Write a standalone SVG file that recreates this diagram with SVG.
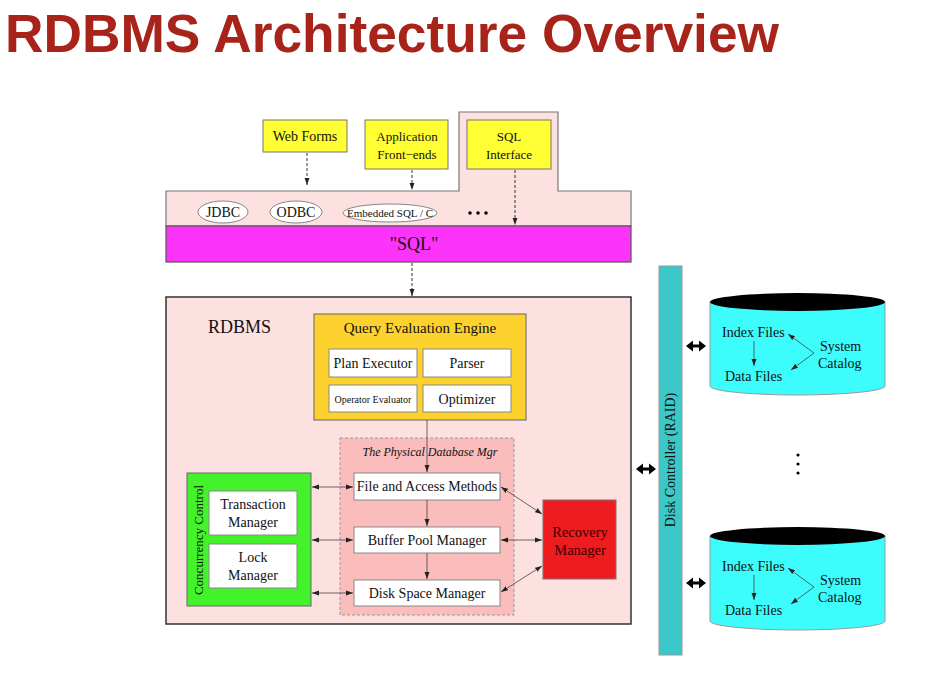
<svg xmlns="http://www.w3.org/2000/svg" width="948" height="674" viewBox="0 0 948 674">
<defs>
<marker id="ah" viewBox="0 0 10 10" refX="10" refY="5" markerWidth="7" markerHeight="7" markerUnits="userSpaceOnUse" orient="auto-start-reverse"><path d="M0,1.5 L10,5 L0,8.5 z" fill="#222"/></marker>
<path id="dbl" d="M0,0 L7,-5.5 L7,-1.6 L13,-1.6 L13,-5.5 L20,0 L13,5.5 L13,1.6 L7,1.6 L7,5.5 z" fill="#000"/>
</defs>
<style>
text{font-family:"Liberation Serif","Times New Roman",serif;fill:#111}
.t14{font-size:14px}
.c{text-anchor:middle}
.yel{fill:#ffff33;stroke:#777;stroke-width:1}
.wb{fill:#fff;stroke:#888;stroke-width:1}
.dash{stroke:#333;stroke-width:1;stroke-dasharray:3 2;fill:none}
.ln{stroke:#444;stroke-width:0.8;fill:none}
.ell{fill:#fff;stroke:#888;stroke-width:1}
.cyl{fill:#3cfcfc;stroke:#999;stroke-width:1}
</style>
<rect width="948" height="674" fill="#fff"/>
<text x="5" y="52" style="font-family:'Liberation Sans',Arial,sans-serif;font-weight:bold;font-size:53.3px;fill:#a8231a">RDBMS Architecture Overview</text>

<g id="interface-layer">
<path d="M166,191 L459,191 L459,112 L558,112 L558,191 L631,191 L631,226 L166,226 z" fill="#fde0e0" stroke="#777" stroke-width="1.2"/>
</g>
<g id="jdbc"><ellipse class="ell" cx="223" cy="212" rx="25" ry="11"/><text class="t14 c" x="223" y="217">JDBC</text></g>
<g id="odbc"><ellipse class="ell" cx="296" cy="212" rx="26" ry="11"/><text class="t14 c" x="296" y="217">ODBC</text></g>
<g id="embedded"><ellipse class="ell" cx="390" cy="213" rx="47" ry="9"/><text class="c" x="390" y="217" style="font-size:11px">Embedded SQL / C</text></g>
<g id="more-interfaces" fill="#000"><circle cx="470" cy="213" r="1.8"/><circle cx="478" cy="213" r="1.8"/><circle cx="486" cy="213" r="1.8"/></g>
<g id="sql"><rect x="166" y="226" width="465" height="36" fill="#fb33fb" stroke="#555" stroke-width="1.2"/><text class="c" x="414" y="250" style="font-size:18px">"SQL"</text></g>
<g id="web-forms"><rect class="yel" x="263" y="120" width="84" height="32"/><text class="t14 c" x="305" y="141">Web Forms</text></g>
<g id="app-frontends"><rect class="yel" x="365" y="120" width="83" height="49"/><text class="c" x="407" y="141" style="font-size:13px">Application</text><text class="c" x="407" y="159" style="font-size:13px">Front−ends</text></g>
<g id="sql-interface"><rect class="yel" x="467" y="120" width="84" height="49"/><text class="c" x="509" y="141" style="font-size:13px">SQL</text><text class="c" x="509" y="159" style="font-size:13px">Interface</text></g>

<g id="rdbms"><rect x="166" y="297" width="465" height="327" fill="#fde0e0" stroke="#333" stroke-width="1.5"/><text x="208" y="333" style="font-size:18px">RDBMS</text></g>
<g id="query-engine"><rect x="314" y="314" width="212" height="106" fill="#fdd22e" stroke="#666" stroke-width="1"/><text class="c" x="420" y="333" style="font-size:15px">Query Evaluation Engine</text></g>
<g id="plan-executor"><rect class="wb" x="329" y="349" width="88" height="28"/><text class="t14 c" x="373" y="368">Plan Executor</text></g>
<g id="parser"><rect class="wb" x="423" y="349" width="88" height="28"/><text class="t14 c" x="467" y="368">Parser</text></g>
<g id="operator-evaluator"><rect class="wb" x="329" y="385" width="88" height="27"/><text class="c" x="373" y="403" style="font-size:10px">Operator Evaluator</text></g>
<g id="optimizer"><rect class="wb" x="423" y="385" width="88" height="27"/><text class="t14 c" x="467" y="404">Optimizer</text></g>

<g id="physical-db-mgr"><rect x="340" y="438" width="174" height="177" fill="#fbbcbc" stroke="#999" stroke-width="1" stroke-dasharray="3 2"/><text class="c" x="430" y="456" style="font-size:12px;font-style:italic">The Physical Database Mgr</text></g>
<g id="file-access"><rect class="wb" x="354" y="473" width="146" height="27"/><text class="t14 c" x="427" y="491">File and Access Methods</text></g>
<g id="buffer-pool"><rect class="wb" x="354" y="527" width="146" height="26"/><text class="t14 c" x="427" y="545">Buffer Pool Manager</text></g>
<g id="disk-space"><rect class="wb" x="354" y="580" width="146" height="26"/><text class="t14 c" x="427" y="598">Disk Space Manager</text></g>

<g id="concurrency-control"><rect x="187" y="473" width="124" height="133" fill="#44f22c" stroke="#666" stroke-width="1"/><text class="c" transform="translate(203,540) rotate(-90)" style="font-size:13px">Concurrency Control</text></g>
<g id="transaction-manager"><rect class="wb" x="209" y="491" width="88" height="44"/><text class="t14 c" x="253" y="509">Transaction</text><text class="t14 c" x="253" y="527">Manager</text></g>
<g id="lock-manager"><rect class="wb" x="209" y="544" width="88" height="44"/><text class="t14 c" x="253" y="562">Lock</text><text class="t14 c" x="253" y="580">Manager</text></g>
<g id="recovery-manager"><rect x="543" y="500" width="73" height="79" fill="#ee1b1f" stroke="#777" stroke-width="1"/><text class="c" x="580" y="537" style="font-size:14.5px;fill:#3a0000">Recovery</text><text class="c" x="580" y="555" style="font-size:14.5px;fill:#3a0000">Manager</text></g>

<g id="disk-controller"><rect x="659" y="266" width="23" height="389" fill="#3cc8c8" stroke="#999" stroke-width="1"/><text class="c" transform="translate(675,460) rotate(-90)" style="font-size:14px">Disk Controller (RAID)</text></g>

<g id="disk-1">
<path class="cyl" d="M710,302 L710,386 A87.5,9 0 0 0 885,386 L885,302"/>
<ellipse cx="797.5" cy="302" rx="87.5" ry="9" fill="#000"/>
<text class="t14" x="722" y="337">Index Files</text>
<text class="t14" x="725" y="381">Data Files</text>
<text class="t14" x="820" y="351">System</text>
<text class="t14" x="818" y="368">Catalog</text>
<line class="ln" x1="754" y1="341" x2="754" y2="366" marker-end="url(#ah)"/>
<path class="ln" d="M788,334 L814,353 L791,370" marker-start="url(#ah)" marker-end="url(#ah)"/>
</g>
<g id="disk-2">
<path class="cyl" d="M710,536 L710,621 A87.5,9 0 0 0 885,621 L885,536"/>
<ellipse cx="797.5" cy="536" rx="87.5" ry="9" fill="#000"/>
<text class="t14" x="722" y="571">Index Files</text>
<text class="t14" x="725" y="615">Data Files</text>
<text class="t14" x="820" y="585">System</text>
<text class="t14" x="818" y="602">Catalog</text>
<line class="ln" x1="754" y1="575" x2="754" y2="600" marker-end="url(#ah)"/>
<path class="ln" d="M788,568 L814,587 L791,604" marker-start="url(#ah)" marker-end="url(#ah)"/>
</g>
<g id="more-disks" fill="#000"><circle cx="798" cy="455" r="1.6"/><circle cx="798" cy="464" r="1.6"/><circle cx="798" cy="473" r="1.6"/></g>

<g id="connectors">
<line class="dash" x1="307" y1="153" x2="307" y2="185" marker-end="url(#ah)"/>
<line class="dash" x1="412" y1="170" x2="412" y2="190" marker-end="url(#ah)"/>
<line class="dash" x1="515" y1="170" x2="515" y2="225" marker-end="url(#ah)"/>
<line class="dash" x1="412" y1="263" x2="412" y2="296" marker-end="url(#ah)"/>
<line class="ln" x1="427" y1="420" x2="427" y2="472" marker-end="url(#ah)"/>
<line class="ln" x1="427" y1="500" x2="427" y2="526" marker-end="url(#ah)"/>
<line class="ln" x1="427" y1="553" x2="427" y2="579" marker-end="url(#ah)"/>
<line class="ln" x1="312" y1="487" x2="353" y2="487" marker-start="url(#ah)" marker-end="url(#ah)"/>
<line class="ln" x1="312" y1="540" x2="353" y2="540" marker-start="url(#ah)" marker-end="url(#ah)"/>
<line class="ln" x1="312" y1="593" x2="353" y2="593" marker-start="url(#ah)" marker-end="url(#ah)"/>
<line class="ln" x1="501" y1="487" x2="542" y2="514" marker-start="url(#ah)" marker-end="url(#ah)"/>
<line class="ln" x1="501" y1="540" x2="542" y2="540" marker-start="url(#ah)" marker-end="url(#ah)"/>
<line class="ln" x1="501" y1="592" x2="542" y2="566" marker-start="url(#ah)" marker-end="url(#ah)"/>
<use href="#dbl" x="636" y="469"/>
<use href="#dbl" x="686" y="346"/>
<use href="#dbl" x="686" y="583"/>
</g>
</svg>
